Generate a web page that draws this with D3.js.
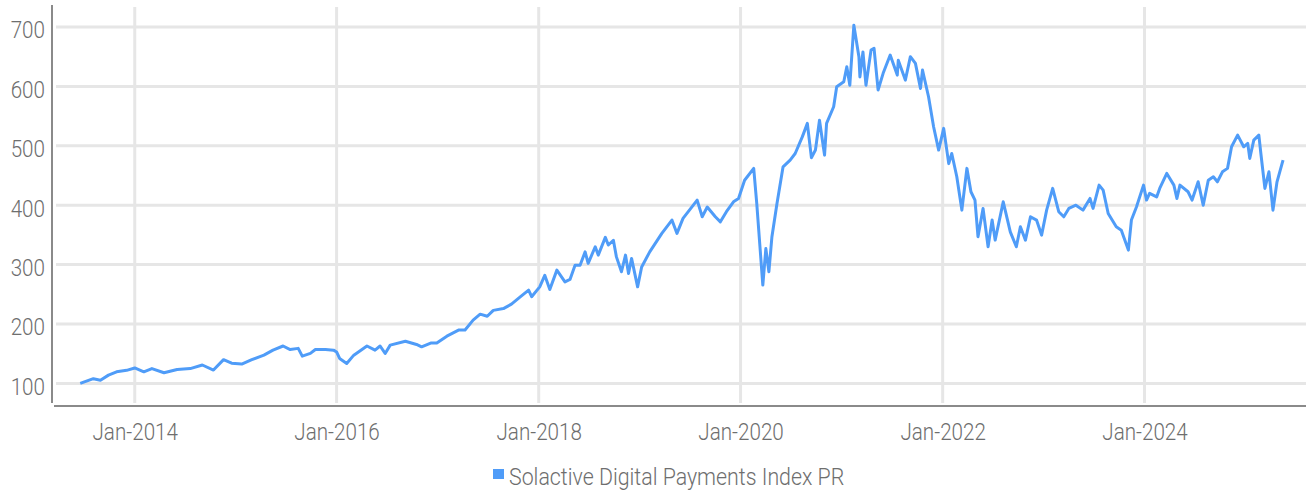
<!DOCTYPE html>
<html>
<head>
<meta charset="utf-8">
<script src="https://cdn.jsdelivr.net/npm/d3@7"></script>
<style>
  body { margin: 0; background: #fff; }
  svg { display: block; font-family: Roboto, sans-serif; font-weight: 300; }
</style>
</head>
<body>
<svg width="1306" height="491"></svg>
<script>
// series name + tick labels
const seriesName = 'Solactive Digital Payments Index PR';
const yTicks = [100, 200, 300, 400, 500, 600, 700];
const xTicks = ['2014-01-01', '2016-01-01', '2018-01-01', '2020-01-01', '2022-01-01', '2024-01-01'];

// decimal years
const years = [
  2013.46, 2013.59, 2013.66, 2013.74, 2013.82, 2013.92, 2014.00, 2014.09, 2014.17, 2014.29,
  2014.42, 2014.55, 2014.67, 2014.78, 2014.88, 2014.96, 2015.06, 2015.16, 2015.28, 2015.37,
  2015.47, 2015.54, 2015.62, 2015.66, 2015.74, 2015.79, 2015.89, 2015.97, 2016.00, 2016.03,
  2016.10, 2016.17, 2016.30, 2016.38, 2016.43, 2016.48, 2016.53, 2016.68, 2016.79, 2016.84,
  2016.93, 2016.99, 2017.09, 2017.21, 2017.27, 2017.35, 2017.42, 2017.49, 2017.55, 2017.65,
  2017.73, 2017.82, 2017.90, 2017.93, 2018.01, 2018.06, 2018.11, 2018.18, 2018.26, 2018.31,
  2018.36, 2018.41, 2018.46, 2018.49, 2018.56, 2018.59, 2018.66, 2018.69, 2018.74, 2018.77,
  2018.82, 2018.86, 2018.89, 2018.92, 2018.98, 2019.02, 2019.10, 2019.22, 2019.32, 2019.37,
  2019.43, 2019.57, 2019.62, 2019.67, 2019.75, 2019.80, 2019.86, 2019.93, 2019.98, 2020.04,
  2020.13, 2020.16, 2020.22, 2020.25, 2020.28, 2020.31, 2020.36, 2020.42, 2020.49, 2020.54,
  2020.61, 2020.66, 2020.70, 2020.74, 2020.78, 2020.83, 2020.85, 2020.92, 2020.95, 2021.02,
  2021.05, 2021.08, 2021.12, 2021.17, 2021.18, 2021.21, 2021.24, 2021.29, 2021.32, 2021.36,
  2021.41, 2021.48, 2021.55, 2021.56, 2021.63, 2021.68, 2021.73, 2021.78, 2021.80, 2021.86,
  2021.91, 2021.96, 2022.01, 2022.06, 2022.09, 2022.14, 2022.19, 2022.24, 2022.28, 2022.32,
  2022.35, 2022.40, 2022.45, 2022.49, 2022.52, 2022.60, 2022.67, 2022.73, 2022.77, 2022.82,
  2022.87, 2022.93, 2022.98, 2023.03, 2023.09, 2023.15, 2023.20, 2023.25, 2023.32, 2023.39,
  2023.46, 2023.49, 2023.55, 2023.59, 2023.64, 2023.72, 2023.77, 2023.84, 2023.87, 2023.92,
  2023.99, 2024.02, 2024.05, 2024.12, 2024.15, 2024.22, 2024.29, 2024.32, 2024.35, 2024.43,
  2024.47, 2024.53, 2024.58, 2024.63, 2024.68, 2024.72, 2024.77, 2024.82, 2024.86, 2024.92,
  2024.98, 2025.02, 2025.04, 2025.08, 2025.13, 2025.15, 2025.19, 2025.23, 2025.27, 2025.31,
  2025.36, 2025.37
];

const values = [
  100, 108, 105.5, 114, 119.5, 122, 126, 119.5, 125, 118,
  123.5, 125, 131, 122.5, 140, 134, 132.5, 140, 147.6, 156,
  163, 157, 159, 146, 150.5, 157, 157, 156, 153, 142,
  133.7, 147.6, 163, 156, 163, 150.5, 164.5, 171, 165.6, 161.6,
  168, 168, 179.6, 190, 190, 206.6, 216.6, 213, 223, 226,
  233.5, 246, 257, 246, 262.6, 282, 258, 290.7, 271, 275,
  299, 299, 321.5, 302, 330, 316, 345.8, 333, 341, 313,
  288, 316, 285, 310.4, 262.6, 296, 321.5, 352.5, 375, 352.5,
  377.8, 408.6, 380.5, 397, 380.5, 372, 389, 405.7, 411.4, 442,
  462, 403, 265.5, 327, 288, 347, 403, 464.6, 476, 487,
  515, 537.7, 480, 492.8, 543, 484.3, 537.7, 565.7, 599.4, 607.8,
  633, 602, 703, 650, 616, 658, 602, 661, 664, 594,
  622, 652.7, 619, 644, 610.6, 650, 638.7, 596.6, 627.5, 582.5,
  532, 492.8, 529.3, 470, 487, 447.8, 391.7, 462, 422.6, 408.6,
  347, 394.6, 330, 375, 341.2, 405.7, 355.2, 330, 363.6, 341.2,
  380.5, 375, 349.7, 391.7, 428.3, 389, 380.5, 394.6, 400, 391.7,
  411.4, 394.6, 433.8, 425.4, 386, 363.6, 358, 324.4, 375, 397,
  433.8, 408.6, 420, 414, 428.3, 453.5, 433.8, 411.4, 433.8, 422.6,
  408.6, 439.4, 400, 442, 447.8, 439.4, 456.2, 462, 498.3, 518,
  498.3, 504, 478.8, 509.6, 518, 487, 428.3, 456.2, 391.7, 439.4,
  470, 476
];

const lineColor = '#4f9cf8';
const gridColor = '#e6e6e6';
const axisColor = '#8a8a8a';
const textColor = '#6e6e6e';
const squeeze = 0.86; // narrow glyphs, like the condensed face in the original
const legendSqueeze = 0.89;

const toDate = (yr) => {
  const y0 = Math.floor(yr);
  const start = Date.UTC(y0, 0, 1);
  const end = Date.UTC(y0 + 1, 0, 1);
  return new Date(start + (yr - y0) * (end - start));
};

const data = years.map((yr, i) => ({ date: toDate(yr), value: values[i] }));

const svg = d3.select('svg');
const plotLeft = 54;
const plotRight = 1306;
const plotTop = 5;
const plotBottom = 406;

const x = d3.scaleUtc()
  .domain([new Date(Date.UTC(2013, 2, 15)), new Date(Date.UTC(2025, 7, 7))])
  .range([plotLeft, plotRight]);

const y = d3.scaleLinear()
  .domain([62, 737])
  .range([plotBottom, plotTop]);

// grid
const grid = svg.append('g');
grid.selectAll('.hgrid').data(yTicks).enter().append('line')
  .attr('x1', 56).attr('x2', plotRight)
  .attr('y1', d => y(d)).attr('y2', d => y(d))
  .attr('stroke', gridColor).attr('stroke-width', 3);

grid.selectAll('.vgrid').data(xTicks).enter().append('line')
  .attr('x1', d => x(new Date(d))).attr('x2', d => x(new Date(d)))
  .attr('y1', 7).attr('y2', 403)
  .attr('stroke', gridColor).attr('stroke-width', 3);

// axis lines
svg.append('line')
  .attr('x1', 52).attr('x2', 52).attr('y1', plotTop).attr('y2', 403)
  .attr('stroke', axisColor).attr('stroke-width', 2);
svg.append('line')
  .attr('x1', plotLeft).attr('x2', plotRight).attr('y1', plotBottom).attr('y2', plotBottom)
  .attr('stroke', axisColor).attr('stroke-width', 2);

// y labels
const yAxis = svg.append('g')
  .attr('transform', 'translate(52,0)')
  .call(d3.axisLeft(y).tickValues(yTicks).tickSize(0).tickPadding(0));
yAxis.select('.domain').remove();
yAxis.selectAll('text')
  .attr('x', -7 / squeeze)
  .attr('dy', '0.45em')
  .attr('transform', `scale(${squeeze},1)`)
  .style('font-family', 'Roboto, sans-serif')
  .style('font-weight', 300)
  .style('font-size', '24px')
  .attr('fill', textColor);

// x labels
const fmt = d3.utcFormat('%b-%Y');
const xAxis = svg.append('g')
  .attr('transform', `translate(0,${plotBottom})`)
  .call(d3.axisBottom(x).tickValues(xTicks.map(d => new Date(d))).tickFormat(fmt).tickSize(0));
xAxis.select('.domain').remove();
xAxis.selectAll('text')
  .attr('y', 34)
  .attr('dy', 0)
  .attr('transform', `scale(${squeeze},1)`)
  .style('font-family', 'Roboto, sans-serif')
  .style('font-weight', 300)
  .style('font-size', '24px')
  .attr('fill', textColor);

// the series
const line = d3.line()
  .x(d => x(d.date))
  .y(d => y(d.value));

svg.append('path')
  .datum(data)
  .attr('d', line)
  .attr('fill', 'none')
  .attr('stroke', lineColor)
  .attr('stroke-width', 3)
  .attr('stroke-linejoin', 'round');

// legend
const legend = svg.append('g').attr('transform', 'translate(493,469)');
legend.append('rect')
  .attr('width', 11).attr('height', 10)
  .attr('fill', lineColor);
legend.append('text')
  .attr('x', 16 / legendSqueeze)
  .attr('y', 16)
  .attr('transform', `scale(${legendSqueeze},1)`)
  .style('font-size', '24px')
  .attr('fill', textColor)
  .text(seriesName);
</script>
</body>
</html>
